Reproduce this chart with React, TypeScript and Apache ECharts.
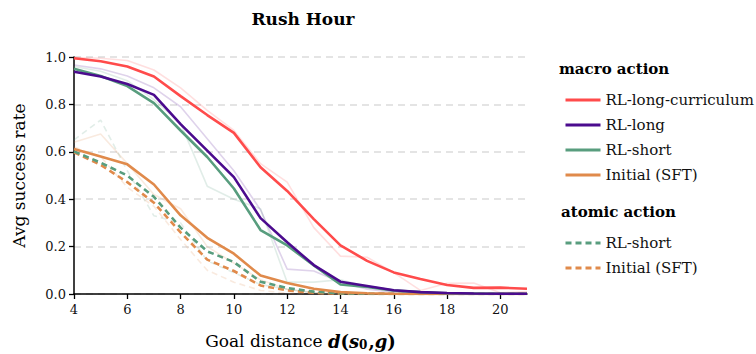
import React, { useEffect, useRef } from "react";
import * as echarts from "echarts";

const distances = [4, 5, 6, 7, 8, 9, 10, 11, 12, 13, 14, 15, 16, 17, 18, 19, 20, 21];

// macro action (main)
const rlLongCurriculum = [0.995, 0.982, 0.96, 0.918, 0.835, 0.755, 0.68, 0.535, 0.435, 0.316, 0.205, 0.14, 0.091, 0.063, 0.038, 0.026, 0.027, 0.022];
const rlLong = [0.938, 0.918, 0.886, 0.84, 0.717, 0.605, 0.493, 0.32, 0.218, 0.122, 0.052, 0.034, 0.016, 0.008, 0.004, 0.002, 0.001, 0.001];
const rlShort = [0.95, 0.92, 0.877, 0.805, 0.69, 0.578, 0.445, 0.27, 0.205, 0.12, 0.04, 0.03, 0.015, 0.008, 0.003, 0.002, 0.001, 0.001];
const initialSft = [0.612, 0.58, 0.547, 0.462, 0.332, 0.237, 0.17, 0.078, 0.046, 0.022, 0.008, 0.003, 0.001, 0, 0, 0, 0, 0];

// atomic action (main)
const atomicRlShort = [0.602, 0.554, 0.5, 0.41, 0.28, 0.18, 0.135, 0.052, 0.025, 0.01, 0.003, 0.001, 0, 0, 0, 0, 0, 0];
const atomicInitialSft = [0.598, 0.545, 0.472, 0.385, 0.26, 0.145, 0.097, 0.036, 0.015, 0.005, 0.001, 0, 0, 0, 0, 0, 0, 0];

// faint companion runs
const faintRlLongCurriculum = [0.998, 0.995, 0.985, 0.945, 0.87, 0.775, 0.69, 0.55, 0.472, 0.28, 0.16, 0.155, 0.09, 0.015, 0.045, 0.046, 0.005, 0.01];
const faintRlLong = [0.966, 0.95, 0.92, 0.87, 0.79, 0.655, 0.52, 0.355, 0.105, 0.097, 0.05, 0.02, 0.008, 0.003, 0.001, 0, 0, 0];
const faintRlShort = [0.96, 0.94, 0.9, 0.82, 0.72, 0.455, 0.4, 0.36, 0.05, 0.05, 0.06, 0.03, 0.01, 0.003, 0, 0, 0, 0];
const faintInitialSft = [0.64, 0.675, 0.55, 0.42, 0.36, 0.2, 0.13, 0.06, 0.02, 0.005, 0, 0, 0, 0, 0, 0, 0, 0];
const faintAtomicRlShort = [0.65, 0.734, 0.52, 0.33, 0.3, 0.14, 0.09, 0.04, 0.02, 0.005, 0, 0, 0, 0, 0, 0, 0, 0];
const faintAtomicInitialSft = [0.62, 0.58, 0.45, 0.37, 0.23, 0.1, 0.05, 0.015, 0.004, 0, 0, 0, 0, 0, 0, 0, 0, 0];

const yTicks = [0, 0.2, 0.4, 0.6, 0.8, 1.0];

const RED = "#ff4b4b";
const PURPLE = "#4b0b8e";
const GREEN = "#589d7e";
const ORANGE = "#e08a4b";

const FONT = "DejaVu Serif";

const pair = (arr: number[]) => distances.map((d, i) => [d, arr[i]]);

export default function App() {
  const ref = useRef<HTMLDivElement>(null);
  useEffect(() => {
    if (!ref.current) return;
    const chart = echarts.init(ref.current, undefined, { renderer: "svg" });

    const mainLine = (name: string, data: number[], color: string, dashed = false) => ({
      name,
      type: "line",
      data: pair(data),
      symbol: "none",
      z: 5,
      lineStyle: { color, width: 2.6, type: dashed ? [6, 4] : "solid" },
      itemStyle: { color },
    });
    const faintLine = (data: number[], color: string, dashed = false) => ({
      name: "_faint",
      type: "line",
      data: pair(data),
      symbol: "none",
      z: 2,
      silent: true,
      lineStyle: { color, width: 1.6, opacity: 0.18, type: dashed ? [6, 4] : "solid" },
      itemStyle: { color },
    });

    const displayNames: Record<string, string> = {
      "RL-long-curriculum": "RL-long-curriculum",
      "RL-long": "RL-long",
      "RL-short": "RL-short",
      "Initial (SFT)": "Initial (SFT)",
      "RL-short atomic": "RL-short",
      "Initial (SFT) atomic": "Initial (SFT)",
    };

    const legendCommon = {
      orient: "vertical",
      left: 559,
      itemWidth: 35,
      itemHeight: 12,
      itemGap: 7,
      itemStyle: { opacity: 0 },
      lineStyle: { width: 3 },
      formatter: (n: string) => displayNames[n] || n,
      textStyle: { fontFamily: FONT, fontSize: 15, color: "#111", lineHeight: 18 },
      selectedMode: false,
    };

    chart.setOption({
      animation: false,
      backgroundColor: "#fff",
      title: {
        text: "Rush Hour",
        left: 298,
        textAlign: "center",
        top: 5,
        textStyle: { fontFamily: FONT, fontSize: 17, fontWeight: "bold", color: "#000" },
      },
      grid: { left: 74, right: 229, top: 57, bottom: 60, containLabel: false, outerBoundsMode: "none" },
      xAxis: {
        type: "value",
        min: 4,
        max: 21,
        interval: 2,
        axisLine: { show: true, lineStyle: { color: "#000", width: 1.5 } },
        axisTick: { show: true, length: 5, lineStyle: { color: "#000", width: 1.3 } },
        axisLabel: { fontFamily: FONT, fontSize: 13, color: "#111", margin: 9, showMaxLabel: false },
        splitLine: { show: false },
        name: "{t|Goal distance }{m|d}{n|(}{m|s}{s|0}{n|,}{m|g}{n|)}",
        nameLocation: "middle",
        nameGap: 37,
        nameTextStyle: {
          rich: {
            t: { fontFamily: FONT, fontSize: 17, color: "#000" },
            m: { fontFamily: FONT, fontSize: 18, fontStyle: "italic", fontWeight: "bold", color: "#000" },
            n: { fontFamily: FONT, fontSize: 18, fontWeight: "bold", color: "#000" },
            s: { fontFamily: FONT, fontSize: 12, fontWeight: "bold", color: "#000", padding: [8, 1, 0, 0] },
          },
        },
      },
      yAxis: {
        type: "value",
        min: 0,
        max: 1,
        interval: 0.2,
        axisLine: { show: true, lineStyle: { color: "#000", width: 1.5 } },
        axisTick: { show: true, length: 5, lineStyle: { color: "#000", width: 1.3 } },
        axisLabel: {
          fontFamily: FONT,
          fontSize: 13,
          color: "#111",
          margin: 8,
          formatter: (v: number) => (yTicks.some((t) => Math.abs(t - v) < 1e-6) ? v.toFixed(1) : ""),
        },
        splitLine: { show: true, lineStyle: { color: "#dcdcdc", width: 1.6, type: [7, 5] } },
        name: "Avg success rate",
        nameLocation: "middle",
        nameRotate: 90,
        nameGap: 47,
        nameTextStyle: { fontFamily: FONT, fontSize: 17, color: "#000" },
      },
      legend: [
        {
          ...legendCommon,
          top: 86,
          data: ["RL-long-curriculum", "RL-long", "RL-short", "Initial (SFT)"],
        },
        {
          ...legendCommon,
          top: 229,
          data: ["RL-short atomic", "Initial (SFT) atomic"],
        },
      ],
      graphic: [
        {
          type: "text",
          left: 559,
          top: 61,
          style: { text: "macro action", fontFamily: FONT, fontSize: 15, fontWeight: "bold", fill: "#000" },
        },
        {
          type: "text",
          left: 561,
          top: 204,
          style: { text: "atomic action", fontFamily: FONT, fontSize: 15, fontWeight: "bold", fill: "#000" },
        },
      ],
      series: [
        faintLine(faintRlLongCurriculum, RED),
        faintLine(faintRlLong, PURPLE),
        faintLine(faintRlShort, GREEN),
        faintLine(faintInitialSft, ORANGE),
        faintLine(faintAtomicRlShort, GREEN, true),
        faintLine(faintAtomicInitialSft, ORANGE, true),
        mainLine("Initial (SFT) atomic", atomicInitialSft, ORANGE, true),
        mainLine("RL-short atomic", atomicRlShort, GREEN, true),
        mainLine("Initial (SFT)", initialSft, ORANGE),
        mainLine("RL-short", rlShort, GREEN),
        mainLine("RL-long", rlLong, PURPLE),
        mainLine("RL-long-curriculum", rlLongCurriculum, RED),
      ],
    });
    return () => chart.dispose();
  }, []);
  return (
    <div
      ref={ref}
      style={{ position: "fixed", left: 0, top: 0, width: 756, height: 354, background: "#fff" }}
    />
  );
}
